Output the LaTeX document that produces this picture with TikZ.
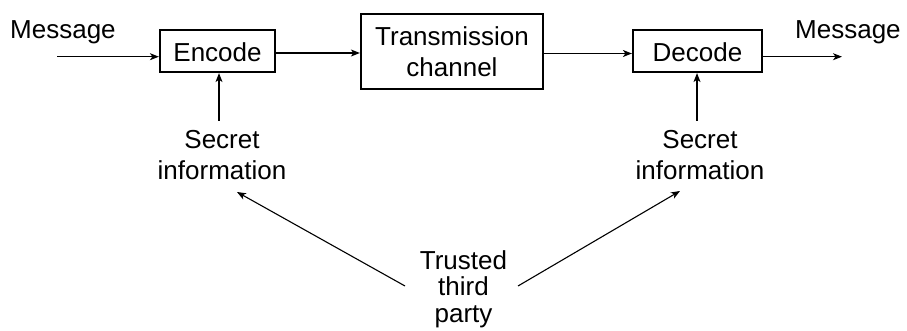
\documentclass[tikz,border=0pt]{standalone}
\usepackage{fontspec}
\setmainfont{Liberation Sans}
\usetikzlibrary{arrows.meta}
\begin{document}
\begin{tikzpicture}[x=1pt,y=-1pt,
  txt/.style={font=\fontsize{26}{31.5}\selectfont, inner sep=0pt, align=center},
  blockbox/.style={draw, line width=2.2pt, inner sep=0pt,
    font=\fontsize{26}{31.5}\selectfont, align=center},
  conn/.style={line width=1.1pt, -{Stealth[length=9pt,width=7pt,inset=2.5pt]}}]
  \path[use as bounding box] (0,0) rectangle (907,331);

  % processing blocks
  \node[blockbox, minimum width=115pt, minimum height=42pt, text height=22pt, text depth=0pt]
    (enc) at (217.5,51) {Encode};
  \node[blockbox, minimum width=182pt, minimum height=75pt]
    (chan) at (452,51.5) {Transmission\\channel};
  \node[blockbox, minimum width=129pt, minimum height=42pt, text height=22pt, text depth=0pt]
    (dec) at (697.5,51) {Decode};

  % labels (base anchor of a multi-line node sits on its last line)
  \node[txt, anchor=base west] (msgin) at (10,39) {Message};
  \node[txt, anchor=base west] (msgout) at (795,39) {Message};
  \node[txt, anchor=base] (seca) at (222,180) {Secret\\information};
  \node[txt, anchor=base] (secb) at (700,180) {Secret\\information};
  \node[txt, anchor=base, font=\fontsize{26}{26.5}\selectfont] (ttp) at (463.5,322) {Trusted\\third\\party};

  % free ends of the connectors
  \coordinate (inS) at (57,56.7);
  \coordinate (outE) at (842,56.7);
  \coordinate (encK) at (219,121);
  \coordinate (decK) at (697,121);
  \coordinate (ttpL) at (405,286);
  \coordinate (ttpR) at (518,286);
  \coordinate (secaT) at (237,192);
  \coordinate (secbT) at (680,191);

  % message path
  \draw[conn] (inS) -- (inS -| enc.west);
  \draw[conn] ([yshift=-2pt]enc.east) -- ([yshift=-2pt]enc.east -| chan.west);
  \draw[conn] ([yshift=-2pt]chan.east) -- ([yshift=-2pt]chan.east -| dec.west);
  \draw[conn] (outE -| dec.east) -- (outE);

  % keys into the blocks
  \draw[conn] (encK) -- (encK |- enc.south);
  \draw[conn] (decK) -- (decK |- dec.south);

  % key distribution
  \draw[conn] (ttpL) -- (secaT);
  \draw[conn] (ttpR) -- (secbT);
\end{tikzpicture}
\end{document}
